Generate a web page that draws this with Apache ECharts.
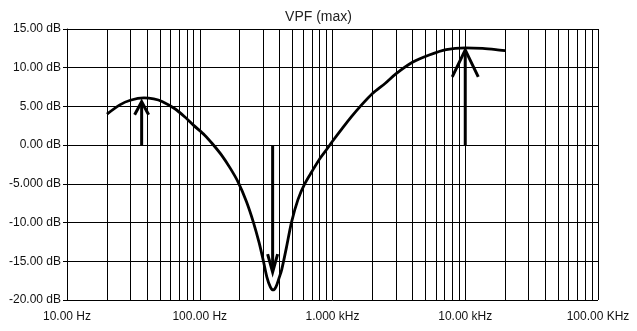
<!DOCTYPE html>
<html>
<head>
<meta charset="utf-8">
<script src="https://cdn.jsdelivr.net/npm/echarts@6/dist/echarts.min.js"></script>
<style>
html,body{margin:0;padding:0;background:#fff;}
#chart{width:637px;height:331px;}
</style>
</head>
<body>
<div id="chart"></div>
<script>
// ---- data ----
var titleText = 'VPF (max)';
var freqHz = [20, 25, 30, 38, 45, 52, 65, 77, 90, 109, 125, 146, 170, 195, 225, 253, 280, 301, 320, 340, 357, 375, 395, 414, 450, 492, 550, 620, 700, 804, 900, 1000, 1200, 1400, 1607, 2000, 2500, 3000, 4000, 5350, 7180, 10000, 13500, 17000, 20000];
var gainDb = [4.0, 5.2, 5.8, 6.1, 5.97, 5.65, 4.7, 3.66, 2.55, 1.29, 0.15, -1.29, -3.0, -4.8, -7.3, -9.9, -12.6, -14.9, -17.0, -18.3, -18.7, -18.3, -17.2, -16.1, -13.2, -9.9, -7.0, -4.95, -3.4, -1.72, -0.6, 0.5, 2.3, 3.75, 4.95, 6.68, 8.0, 9.2, 10.7, 11.65, 12.35, 12.57, 12.5, 12.35, 12.2];
var xTickValues = [10, 100, 1000, 10000, 100000];
var xTickLabels = ['10.00 Hz', '100.00 Hz', '1.000 kHz', '10.00 kHz', '100.00 KHz'];
var yTickValues = [-20, -15, -10, -5, 0, 5, 10, 15];
var yTickLabels = ['-20.00 dB', '-15.00 dB', '-10.00 dB', '-5.000 dB', '0.00 dB', '5.00 dB', '10.00 dB', '15.00 dB'];
var minorGridFreqs = [20,30,40,50,60,70,80,90, 200,300,400,500,600,700,800,900, 2000,3000,4000,5000,6000,7000,8000,9000, 20000,30000,40000,50000,60000,70000,80000,90000];
var arrowFreq = [36.5, 354, 10000];
var arrowBaseDb = [0, 0, 0];
var arrowTipDb = [5.6, -16.4, 12.3];

// ---- styles (pixel sizes of arrow heads: half-width, length) ----
var arrowHeadStyle = [[7, 13], [5, 18], [13, 27]];
var FONT = '"Liberation Sans", Arial, sans-serif';

var curve = freqHz.map(function (f, i) { return [f, gainDb[i]]; });
var arrows = arrowFreq.map(function (f, i) { return [f, arrowBaseDb[i], arrowTipDb[i], i]; });

function lookup(vals, labels, v) {
  for (var i = 0; i < vals.length; i++) {
    if (Math.abs(vals[i] - v) < 1e-6 * Math.max(1, Math.abs(v))) return labels[i];
  }
  return '';
}

var chart = echarts.init(document.getElementById('chart'), null, {renderer: 'canvas'});
chart.setOption({
  animation: false,
  backgroundColor: '#fff',
  title: {
    text: titleText, left: 'center', top: 5,
    textStyle: {fontFamily: FONT, fontSize: 14, fontWeight: 'normal', color: '#222'}
  },
  grid: {left: 67, right: 39, top: 29, bottom: 31, containLabel: false},
  xAxis: {
    type: 'log', logBase: 10, min: 10, max: 100000,
    axisLine: {show: true, lineStyle: {color: '#000', width: 1}},
    axisTick: {show: true, length: 5, lineStyle: {color: '#000'}},
    minorTick: {show: false},
    splitLine: {show: true, lineStyle: {color: '#000', width: 1}},
    axisLabel: {
      fontFamily: FONT, fontSize: 12, color: '#111', margin: 11,
      formatter: function (v) { return lookup(xTickValues, xTickLabels, v); }
    }
  },
  yAxis: {
    type: 'value', min: -20, max: 15, interval: 5,
    axisLine: {show: true, lineStyle: {color: '#000', width: 1}},
    axisTick: {show: true, length: 4, lineStyle: {color: '#000'}},
    splitLine: {show: true, lineStyle: {color: '#000', width: 1}},
    axisLabel: {
      fontFamily: FONT, fontSize: 12, color: '#111', margin: 6,
      formatter: function (v) { return lookup(yTickValues, yTickLabels, v); }
    }
  },
  series: [
    {
      type: 'line', data: [], silent: true,
      markLine: {
        silent: true, symbol: 'none', animation: false,
        label: {show: false},
        lineStyle: {color: '#000', width: 1, type: 'solid'},
        emphasis: {disabled: true},
        data: minorGridFreqs.map(function (f) { return {xAxis: f}; })
      }
    },
    {
      type: 'line', data: curve, smooth: 0.3, showSymbol: false, symbol: 'none',
      lineStyle: {color: '#000', width: 2.8}, z: 5
    },
    {
      type: 'custom', data: arrows, z: 6,
      renderItem: function (params, api) {
        var f = api.value(0), b = api.value(1), t = api.value(2), idx = api.value(3);
        var p0 = api.coord([f, b]);
        var p1 = api.coord([f, t]);
        var hs = arrowHeadStyle[idx];
        var dir = p1[1] < p0[1] ? 1 : -1;
        var st = {stroke: '#000', lineWidth: 3, fill: null, lineCap: 'butt', lineJoin: 'miter'};
        return {
          type: 'group',
          children: [
            {type: 'line', shape: {x1: p0[0], y1: p0[1], x2: p1[0], y2: p1[1] + dir * 2}, style: st},
            {type: 'polyline', shape: {points: [[p1[0] - hs[0], p1[1] + dir * hs[1]], [p1[0], p1[1]], [p1[0] + hs[0], p1[1] + dir * hs[1]]]}, style: st}
          ]
        };
      }
    }
  ]
});
</script>
</body>
</html>
